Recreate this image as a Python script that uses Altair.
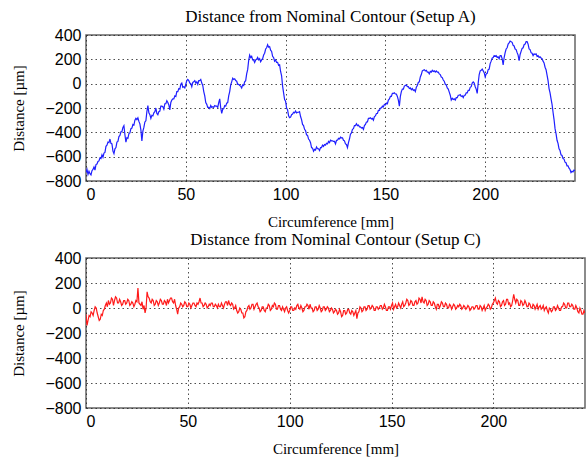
import altair as alt
import numpy as np
import pandas as pd

STEP_MM = 0.5

# Setup A deviation [um], sampled every 0.5 mm from 0 to 245 mm
setup_a = [
    -730, -705, -745, -720, -740, -750, -715, -705, -685, -710,
    -665, -660, -640, -635, -610, -615, -585, -605, -570, -565,
    -515, -505, -480, -485, -455, -490, -495, -555, -575, -535,
    -525, -480, -475, -435, -425, -395, -395, -360, -345, -420,
    -480, -445, -450, -410, -405, -370, -365, -335, -340, -300,
    -285, -295, -280, -310, -330, -380, -470, -390, -360, -315,
    -305, -230, -180, -240, -255, -285, -260, -265, -240, -230,
    -200, -245, -255, -230, -225, -185, -185, -190, -210, -165,
    -165, -140, -155, -175, -215, -155, -135, -125, -125, -100,
    -105, -65, -65, -40, -45, -5, 5, -30, -25, -35,
    -5, 25, 35, 25, 5, 0, -25, 10, 15, 25,
    5, 15, -5, 25, 25, 35, 5, -15, -65, -100,
    -155, -170, -195, -195, -205, -180, -195, -190, -195, -180,
    -185, -185, -195, -155, -125, -200, -245, -210, -205, -180,
    -185, -160, -155, -100, -65, -10, 15, 45, 35, 40,
    25, 20, -5, -5, -15, -20, -35, -10, -15, 15,
    25, 80, 115, 190, 235, 215, 225, 195, 195, 175,
    195, 200, 215, 195, 205, 180, 195, 205, 235, 250,
    285, 295, 320, 300, 305, 275, 265, 225, 215, 185,
    195, 175, 175, 150, 155, 100, 65, -20, -75, -130,
    -145, -200, -215, -265, -280, -275, -255, -250, -235, -240,
    -225, -240, -235, -235, -230, -270, -295, -335, -345, -375,
    -385, -420, -425, -455, -465, -485, -525, -530, -555, -540,
    -545, -520, -535, -535, -550, -525, -525, -505, -515, -500,
    -505, -490, -495, -475, -485, -465, -470, -470, -475, -475,
    -495, -465, -465, -450, -455, -440, -445, -445, -465, -470,
    -495, -500, -525, -485, -455, -415, -405, -375, -370, -345,
    -345, -330, -345, -340, -355, -355, -365, -360, -375, -345,
    -335, -315, -315, -285, -285, -280, -290, -285, -300, -270,
    -265, -245, -245, -220, -220, -200, -200, -185, -190, -170,
    -175, -160, -165, -135, -125, -105, -105, -80, -80, -75,
    -85, -85, -105, -135, -185, -105, -65, -45, -45, -20,
    -15, -10, -25, -25, -40, -35, -50, -40, -55, -50,
    -65, -30, -15, 10, 15, 55, 75, 105, 110, 115,
    105, 110, 95, 95, 80, 100, 95, 110, 100, 105,
    95, 105, 95, 95, 80, 75, 55, 50, 30, 20,
    -5, -10, -35, -45, -70, -95, -135, -120, -130, -125,
    -135, -115, -115, -95, -95, -90, -105, -100, -115, -95,
    -95, -75, -75, -55, -55, -30, -25, 5, 15, 5,
    -25, -45, -80, 5, 75, 105, 110, 120, 105, 90,
    55, 80, 85, 115, 120, 165, 185, 210, 215, 230,
    225, 230, 215, 220, 205, 230, 230, 205, 155, 215,
    255, 285, 295, 325, 335, 350, 345, 340, 315, 310,
    285, 280, 255, 235, 190, 240, 265, 290, 295, 320,
    325, 345, 345, 325, 285, 280, 255, 250, 230, 245,
    240, 245, 225, 230, 215, 220, 210, 205, 185, 170,
    135, 115, 70, 25, -40, -75, -125, -170, -235, -295,
    -370, -410, -465, -490, -535, -550, -585, -590, -615, -620,
    -645, -650, -675, -675, -695, -705, -730, -720, -725, -710,
    -715,
]

# Setup C deviation [um], sampled every 0.5 mm from 0 to 245 mm
setup_c = [
    -50, -140, -100, -60, -70, -30, -40, -60, -20, 10,
    0, -40, -70, -100, -90, -50, -60, -20, -10, 20,
    40, 10, 60, 30, 40, 80, 70, 20, 60, 90,
    80, 40, 40, 70, 50, 20, 30, 60, 60, 30,
    40, 70, 60, 20, 30, 50, 40, 10, 30, 60,
    50, 160, 40, 30, 20, 50, -10, 20, -40, 0,
    130, 90, 80, 50, 40, 70, 60, 20, 30, 60,
    50, 20, 40, 70, 60, 30, 30, 60, 50, 20,
    70, 40, 60, 80, 80, 50, 40, 70, 20, -10,
    -50, 0, 10, 40, 30, 10, 20, 50, 40, 10,
    10, 40, 30, 0, 20, 40, 40, 20, 10, 40,
    30, 50, 80, 40, 40, 10, 20, 40, 30, 0,
    10, 30, 20, 40, 40, 10, 10, 30, 20, 0,
    30, 10, 10, 40, 20, 0, 30, 50, 50, 20,
    60, 30, 20, 40, 30, -10, 0, 20, -20, -40,
    -30, 0, -10, -40, -40, -80, -70, -30, -20, 10,
    20, -10, 0, 30, 30, -10, 10, 30, 40, 10,
    0, -30, -20, 10, 10, -20, -30, 0, 0, 30,
    20, -20, -10, 20, 10, 40, 30, -10, -10, 20,
    20, -10, -20, 10, -10, -30, 0, 10, -20, -40,
    -20, 10, 10, -20, -20, 0, -10, 20, 30, 0,
    -10, 20, 0, -30, -20, 10, 10, 30, 20, -10,
    30, 0, 0, -30, -20, 10, 10, -20, -10, 20,
    0, -30, -20, 10, 10, -20, -10, 10, 0, -30,
    -20, 0, -10, -40, -30, -10, -20, -50, -40, -10,
    -30, -70, -60, -20, -20, -50, -40, -10, -10, -40,
    -50, -20, -30, -60, -40, -20, -85, -40, -30, 10,
    0, -30, -20, 10, 10, -20, -10, 20, 20, -10,
    0, 20, 10, -20, -20, 10, 10, -10, 0, 20,
    20, -10, 0, 30, 10, -20, -20, 10, 10, -10,
    20, 40, -10, 10, 30, 0, 10, 40, 20, 0,
    30, 50, 10, 20, 40, 70, 60, 20, 30, 60,
    50, 20, 20, 50, 60, 30, 40, 80, 70, 40,
    90, 50, 40, 70, 60, 20, 30, 60, 50, 20,
    20, 50, 40, 10, -10, 30, 30, 0, 20, 50,
    40, 10, 10, 40, 30, 0, 0, 30, 20, -10,
    10, 30, 20, -10, 0, 20, 10, 30, 20, -10,
    0, 20, 10, -10, 0, 20, 10, -20, -10, 10,
    10, -10, 0, 20, 20, -10, -10, 20, 10, -20,
    0, 20, -20, 0, 10, 30, 20, -10, 0, 30,
    40, 60, 80, 40, 30, 60, 50, 10, 20, 50,
    60, 20, 30, 70, 70, 30, 40, 10, 20, 60,
    110, 70, 40, 70, 60, 20, 20, 60, 50, 20,
    30, 60, 40, 10, 10, 40, 30, 0, 0, 30,
    20, -10, 10, 30, -10, 10, 20, -10, 0, 20,
    -20, 0, 10, -20, -40, 0, -10, -30, -20, 10,
    10, -20, -10, 20, 0, -20, -20, 10, 10, 40,
    30, 0, 0, 40, 40, 10, 10, 30, 20, -10,
    -10, 20, 0, -30, -40, 0, -20, -50, -50, -20,
    -40,
]

x_ticks = [0, 50, 100, 150, 200]
y_ticks = [-800, -600, -400, -200, 0, 200, 400]
titles = ["Distance from Nominal Contour (Setup A)",
          "Distance from Nominal Contour (Setup C)"]

n = len(setup_a)
assert len(setup_c) == n
circ = np.arange(n) * STEP_MM

df_a = pd.DataFrame({"circ": circ, "dist": setup_a})
df_c = pd.DataFrame({"circ": circ, "dist": setup_c})


def panel(df, color, title, w, h):
    return alt.Chart(df, title=alt.Title(title)).mark_line(
        color=color, strokeWidth=1.2, clip=True
    ).encode(
        x=alt.X("circ:Q", title="Circumference [mm]",
                scale=alt.Scale(domain=[0, 245], nice=False, zero=False),
                axis=alt.Axis(values=x_ticks, titlePadding=12)),
        y=alt.Y("dist:Q", title="Distance [µm]",
                scale=alt.Scale(domain=[-800, 400], nice=False),
                axis=alt.Axis(values=y_ticks, titlePadding=18)),
    ).properties(width=w, height=h)


top = panel(df_a, "#1f1fff", titles[0], 489, 146)
bottom = panel(df_c, "#ff1a1a", titles[1], 499, 150)

chart = alt.vconcat(top, bottom, spacing=0).properties(
    padding={"left": 11, "top": 7, "right": 0, "bottom": 0}
).configure_view(
    stroke="#666666", strokeWidth=1.5
).configure_axis(
    labelFont="Liberation Sans", labelFontSize=16, labelColor="#000000",
    titleFont="Liberation Serif", titleFontSize=15, titleFontWeight="normal",
    titleColor="#000000", labelPadding=5, titlePadding=8,
    grid=True, gridColor="#222222", gridDash=[1.5, 3], gridWidth=1,
    gridOpacity=0.8, ticks=False, domain=False,
).configure_title(
    font="Liberation Serif", fontSize=17, fontWeight="normal",
    color="#000000", offset=1,
)

chart.save("out.html", embed_options={"renderer": "svg", "actions": False})
